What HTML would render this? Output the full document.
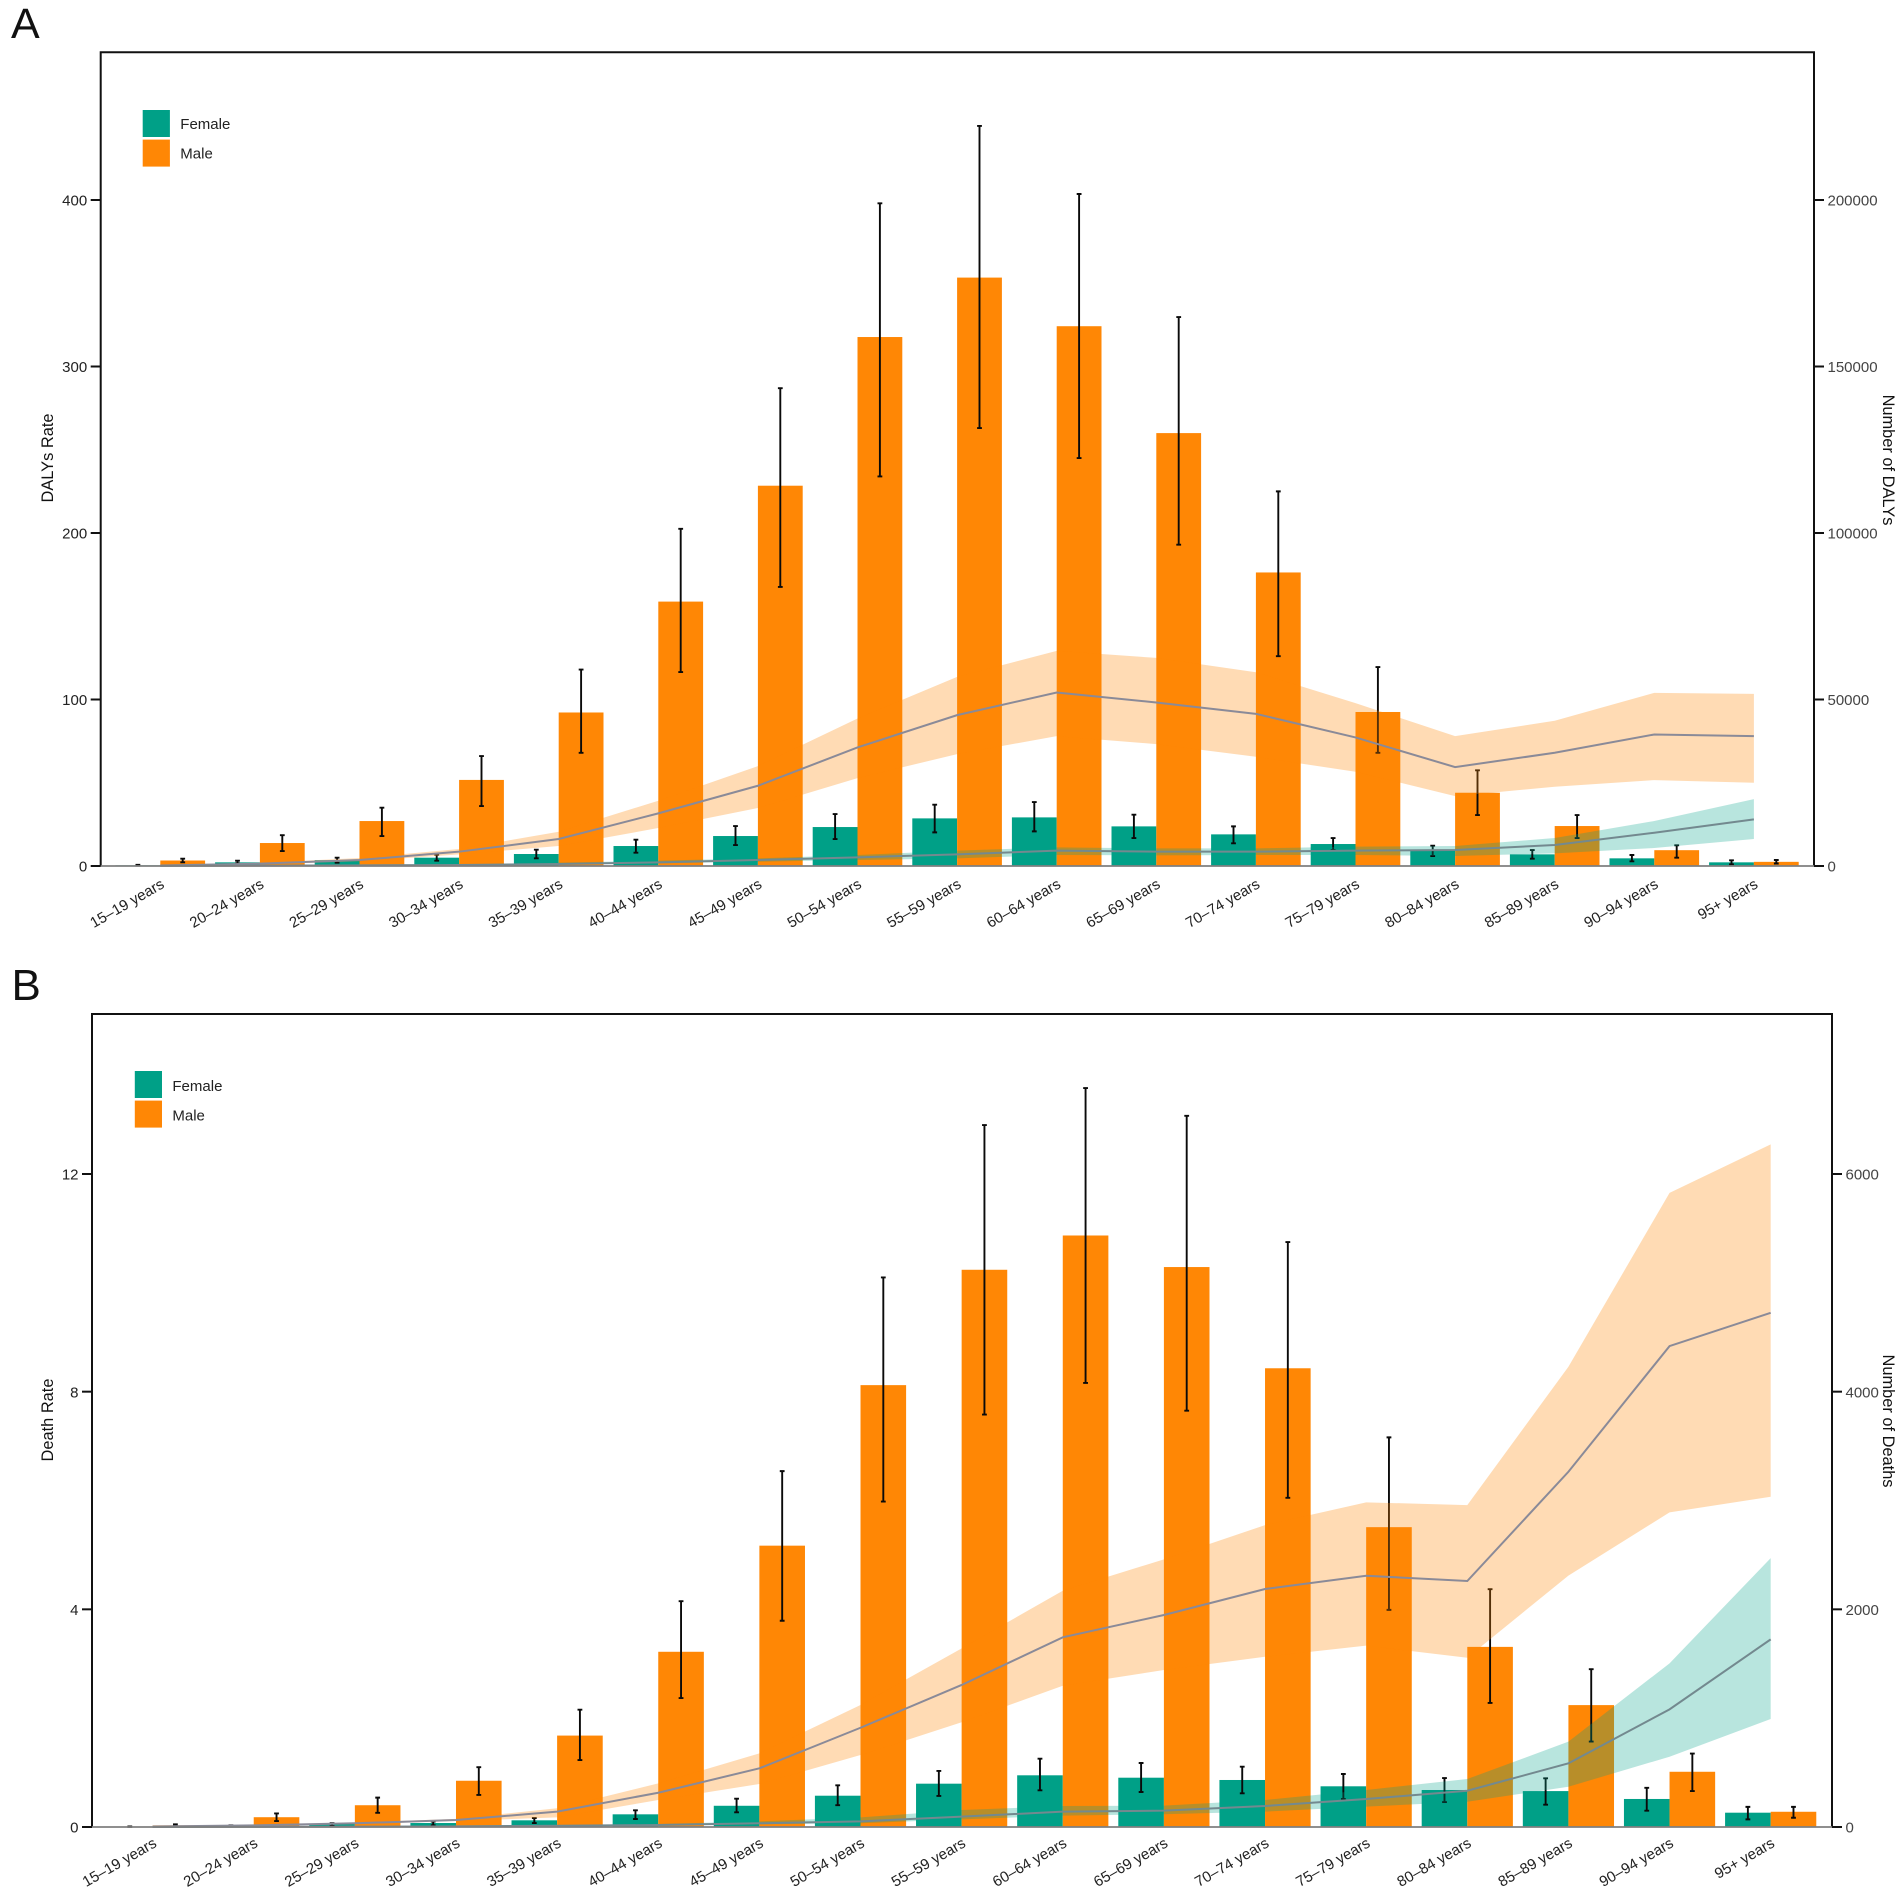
<!DOCTYPE html>
<html lang="en">
<head>
<meta charset="utf-8">
<title>DALYs and deaths by age and sex</title>
<style>
html,body{margin:0;padding:0;background:#fff;}
svg{display:block;font-family:"Liberation Sans",Arial,sans-serif;}
</style>
</head>
<body>
<svg id="figure" xmlns="http://www.w3.org/2000/svg" width="1902" height="1895" viewBox="0 0 1902 1895">
  <rect x="0" y="0" width="1902" height="1895" fill="#ffffff"/>
  <g id="panel-a"></g>
  <g id="panel-b"></g>
  <text x="11" y="38" font-size="43" fill="#111">A</text>
  <text x="11.5" y="1000" font-size="44" fill="#111">B</text>

  <g>
    <rect x="142.7" y="110" width="27.2" height="27" fill="#00A087"/>
    <rect x="142.7" y="139.6" width="27.2" height="27" fill="#FF8705"/>
    <text x="180.3" y="129" font-size="15" fill="#222">Female</text>
    <text x="180.3" y="158.5" font-size="15" fill="#222">Male</text>
  </g>
  <g>
    <rect x="134.8" y="1071" width="27.2" height="27" fill="#00A087"/>
    <rect x="134.8" y="1100.6" width="27.2" height="27" fill="#FF8705"/>
    <text x="172.4" y="1091" font-size="15" fill="#222">Female</text>
    <text x="172.4" y="1120.5" font-size="15" fill="#222">Male</text>
  </g>

  <text transform="translate(53 458) rotate(-90)" text-anchor="middle" font-size="16.4" fill="#111">DALYs Rate</text>
  <text transform="translate(1883 460) rotate(90)" text-anchor="middle" font-size="16.4" fill="#111">Number of DALYs</text>
  <text transform="translate(53 1420) rotate(-90)" text-anchor="middle" font-size="16.4" fill="#111">Death Rate</text>
  <text transform="translate(1883 1421) rotate(90)" text-anchor="middle" font-size="16.4" fill="#111">Number of Deaths</text>
</svg>

<script>
var ageGroups = ["15–19 years","20–24 years","25–29 years","30–34 years","35–39 years","40–44 years","45–49 years","50–54 years","55–59 years","60–64 years","65–69 years","70–74 years","75–79 years","80–84 years","85–89 years","90–94 years","95+ years"];

/* Panel A: DALYs */
var dalyRateTicks = [0,100,200,300,400];
var dalyCountTicks = [0,50000,100000,150000,200000];
var dalyFemaleRate = [0.4,2.2,3.5,5,7.2,12,18,23.4,28.6,29.2,23.8,19,13.2,9.2,7,4.6,2.2];
var dalyFemaleRateUpper = [0.7,3.2,5,6.8,9.8,15.8,24,31.2,36.8,38.4,30.8,23.8,16.8,12.2,9.6,6.6,3.4];
var dalyFemaleRateLower = [0.2,1.5,2,3.2,4.6,8,12.6,16.2,20.2,20.8,16.8,13.6,9.6,6,4.4,2.8,1];
var dalyMaleRate = [3.3,13.8,27,51.7,92.2,158.8,228.4,317.7,353.4,324.2,260,176.3,92.5,44,24,9.5,2.5];
var dalyMaleRateUpper = [4.4,18.5,35,66,118,202.5,287,398,444.5,403.6,329.7,225,119.5,57.5,30.6,12.4,3.6];
var dalyMaleRateLower = [2.2,9,18,36,68,116.5,167.6,234,263,245,193,126,68,30.6,16.8,5,1.5];
var dalyMaleCount = [150,700,1800,4300,8100,15800,24100,35600,45300,52100,49100,45700,38600,29700,34000,39500,39000];
var dalyMaleCountUpper = [200,950,2400,5100,10300,19600,30000,44300,56800,64600,62500,58200,48900,39000,43600,52000,51700];
var dalyMaleCountLower = [100,500,1400,3500,6000,11400,17400,26400,33600,39000,36600,32800,28300,21000,23800,25800,25000];
var dalyFemaleCount = [50,100,200,300,600,1100,1800,2600,3500,4600,4300,4300,4600,4800,6300,10000,14000];
var dalyFemaleCountUpper = [70,130,260,400,1000,1600,2300,3300,4600,5600,5300,5300,5800,6000,8400,13500,20100];
var dalyFemaleCountLower = [30,70,150,230,450,800,1300,1800,2300,3300,3200,3300,3300,3000,3800,5400,8100];

/* Panel B: Deaths */
var deathRateTicks = [0,4,8,12];
var deathCountTicks = [0,2000,4000,6000];
var deathFemaleRate = [0.005,0.015,0.055,0.073,0.123,0.233,0.39,0.575,0.796,0.95,0.906,0.864,0.748,0.68,0.66,0.515,0.263];
var deathFemaleRateUpper = [0.01,0.03,0.07,0.10,0.165,0.307,0.52,0.766,1.03,1.255,1.176,1.108,0.974,0.90,0.895,0.72,0.37];
var deathFemaleRateLower = [0.002,0.01,0.02,0.03,0.073,0.147,0.27,0.40,0.57,0.674,0.643,0.619,0.515,0.459,0.41,0.30,0.14];
var deathMaleRate = [0.03,0.18,0.40,0.85,1.68,3.22,5.17,8.12,10.24,10.87,10.29,8.43,5.51,3.31,2.24,1.015,0.28];
var deathMaleRateUpper = [0.05,0.25,0.54,1.10,2.155,4.15,6.54,10.1,12.9,13.58,13.07,10.75,7.16,4.37,2.9,1.35,0.37];
var deathMaleRateLower = [0.015,0.11,0.26,0.59,1.23,2.37,3.79,5.98,7.58,8.16,7.65,6.05,3.99,2.28,1.57,0.66,0.17];
var deathMaleCount = [5,15,34,64,141,315,539,912,1305,1743,1948,2187,2309,2260,3264,4419,4725];
var deathMaleCountUpper = [6,18,40,75,172,401,677,1121,1641,2171,2459,2774,2983,2958,4229,5827,6272];
var deathMaleCountLower = [4,12,28,55,89,248,395,661,962,1298,1442,1564,1666,1555,2310,2891,3034];
var deathFemaleCount = [0.5,1,3,6,12,18,34,52,95,141,150,193,257,333,585,1081,1724];
var deathFemaleCountUpper = [1,2,4,8,16,27,52,88,156,193,196,248,340,441,784,1504,2470];
var deathFemaleCountLower = [0.3,1,2,4,8,14,25,35,70,104,117,141,187,232,370,646,992];

var SVG_NS = "http://www.w3.org/2000/svg";
var GREEN = "#00A087", ORANGE = "#FF8705";

function make(tag, parent, attrs, text) {
  var el = document.createElementNS(SVG_NS, tag);
  for (var k in attrs) { el.setAttribute(k, attrs[k]); }
  if (text !== undefined) { el.textContent = text; }
  parent.appendChild(el);
  return el;
}

function drawPanel(parent, layout, data) {
  var xCenter = function (i) { return layout.firstCenter + layout.step * i; };
  var yRate = function (v) { return layout.baseline - v * layout.ratePx; };
  var yCount = function (v) { return layout.baseline - v * layout.countPx; };

  /* frame */
  var frame = make("path", parent, {d: "M" + layout.left + " " + layout.baseline + "V" + layout.top + "H" + layout.right + "V" + layout.baseline, fill: "none", stroke: "#111", "stroke-width": 2});
  
  

  /* bars */
  ageGroups.forEach(function (age, i) {
    var fTop = yRate(data.femaleRate[i]);
    var fBar = make("rect", parent, {x: xCenter(i) - layout.barWidth, y: fTop, width: layout.barWidth, height: layout.baseline - fTop, fill: GREEN});
    
    
    var mTop = yRate(data.maleRate[i]);
    var mBar = make("rect", parent, {x: xCenter(i), y: mTop, width: layout.barWidth, height: layout.baseline - mTop, fill: ORANGE});
    
    
  });

  /* error bars */
  function errorBar(cx, up, low, name) {
    var y1 = yRate(up), y2 = yRate(low);
    var path = make("path", parent, {d: "M" + cx + " " + y1 + "V" + y2 + "M" + (cx - 2.4) + " " + y1 + "H" + (cx + 2.4) + "M" + (cx - 2.4) + " " + y2 + "H" + (cx + 2.4), fill: "none", stroke: "#0a0a0a", "stroke-width": 1.9});
    
    
  }
  ageGroups.forEach(function (age, i) {
    errorBar(xCenter(i) - layout.barWidth / 2, data.femaleRateUpper[i], data.femaleRateLower[i], 'error-bar-female');
    errorBar(xCenter(i) + layout.barWidth / 2, data.maleRateUpper[i], data.maleRateLower[i], 'error-bar-male');
  });

  /* confidence bands and lines */
  function bandPath(up, low) {
    var d = "";
    up.forEach(function (v, i) { d += (i ? "L" : "M") + xCenter(i) + " " + yCount(v); });
    for (var i = low.length - 1; i >= 0; i--) { d += "L" + xCenter(i) + " " + yCount(low[i]); }
    return d + "Z";
  }
  function linePath(vals) {
    var d = "";
    vals.forEach(function (v, i) { d += (i ? "L" : "M") + xCenter(i) + " " + yCount(v); });
    return d;
  }
  var maleBand = make("path", parent, {d: bandPath(data.maleCountUpper, data.maleCountLower), fill: ORANGE, "fill-opacity": 0.3});
  
  
  var femaleBand = make("path", parent, {d: bandPath(data.femaleCountUpper, data.femaleCountLower), fill: GREEN, "fill-opacity": 0.28});
  
  
  var maleLine = make("path", parent, {d: linePath(data.maleCount), fill: "none", stroke: "#8A8A98", "stroke-width": 2});
  
  
  var femaleLine = make("path", parent, {d: linePath(data.femaleCount), fill: "none", stroke: "#73898F", "stroke-width": 2});
  
  

  /* x axis line in grey */
  var xAxis = make("line", parent, {x1: layout.left, x2: layout.right, y1: layout.baseline, y2: layout.baseline, stroke: "#7f7f7f", "stroke-width": 1.8});
  
  

  /* left ticks */
  data.rateTicks.forEach(function (t) {
    var y = yRate(t);
    var tick = make("line", parent, {x1: layout.left - 10, x2: layout.left, y1: y, y2: y, stroke: "#111", "stroke-width": 2});
    
    
    var label = make("text", parent, {x: layout.left - 13.5, y: y + 5.6, "text-anchor": "end", "font-size": 15, fill: "#222"}, String(t));
    
    
  });

  /* right ticks */
  data.countTicks.forEach(function (t) {
    var y = yCount(t);
    var tick = make("line", parent, {x1: layout.right, x2: layout.right + 10, y1: y, y2: y, stroke: "#111", "stroke-width": 2});
    
    
    var label = make("text", parent, {x: layout.right + 13.5, y: y + 5.6, "font-size": 15, fill: "#444"}, String(t));
    
    
  });

  /* category labels */
  ageGroups.forEach(function (age, i) {
    var lx = xCenter(i) + 5, ly = layout.baseline + layout.labelDrop;
    var label = make("text", parent, {transform: "translate(" + lx + " " + ly + ") rotate(-30)", "text-anchor": "end", "font-size": 15, fill: "#222"}, age);
    
    
  });
}

drawPanel(document.getElementById("panel-a"),
  {left: 100.7, right: 1814, top: 52.3, baseline: 866, firstCenter: 160.3, step: 99.6, barWidth: 44.8, ratePx: 666 / 400, countPx: 666 / 200000, labelDrop: 21},
  {rateTicks: dalyRateTicks, countTicks: dalyCountTicks, femaleRate: dalyFemaleRate, femaleRateUpper: dalyFemaleRateUpper, femaleRateLower: dalyFemaleRateLower, maleRate: dalyMaleRate, maleRateUpper: dalyMaleRateUpper, maleRateLower: dalyMaleRateLower, maleCount: dalyMaleCount, maleCountUpper: dalyMaleCountUpper, maleCountLower: dalyMaleCountLower, femaleCount: dalyFemaleCount, femaleCountUpper: dalyFemaleCountUpper, femaleCountLower: dalyFemaleCountLower});

drawPanel(document.getElementById("panel-b"),
  {left: 92, right: 1832, top: 1014, baseline: 1827, firstCenter: 152.6, step: 101.13, barWidth: 45.6, ratePx: 653 / 12, countPx: 653 / 6000, labelDrop: 19},
  {rateTicks: deathRateTicks, countTicks: deathCountTicks, femaleRate: deathFemaleRate, femaleRateUpper: deathFemaleRateUpper, femaleRateLower: deathFemaleRateLower, maleRate: deathMaleRate, maleRateUpper: deathMaleRateUpper, maleRateLower: deathMaleRateLower, maleCount: deathMaleCount, maleCountUpper: deathMaleCountUpper, maleCountLower: deathMaleCountLower, femaleCount: deathFemaleCount, femaleCountUpper: deathFemaleCountUpper, femaleCountLower: deathFemaleCountLower});
</script>
</body>
</html>
